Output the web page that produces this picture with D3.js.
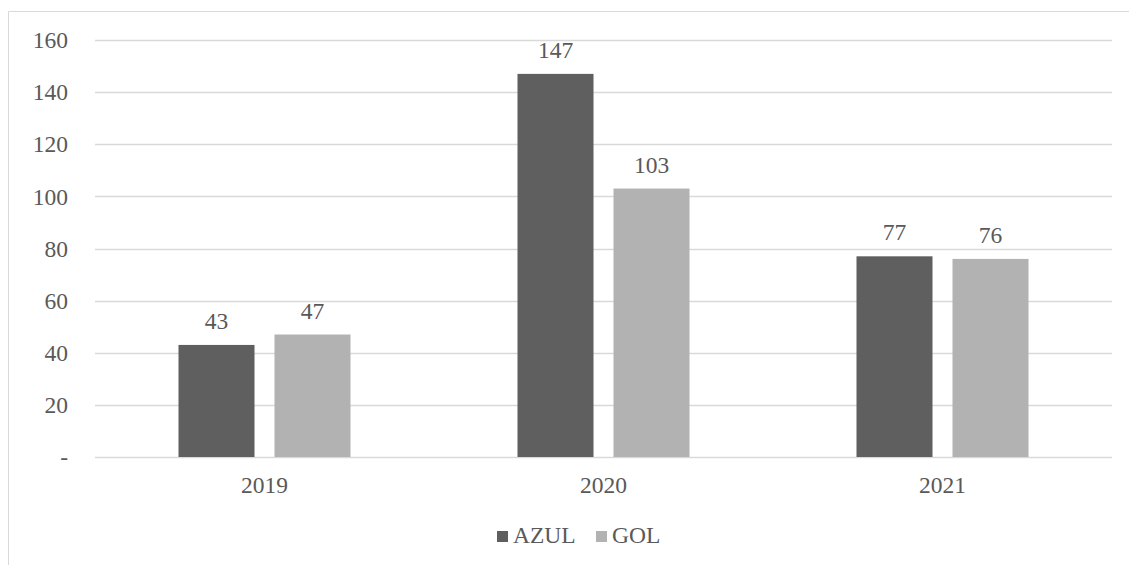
<!DOCTYPE html>
<html>
<head>
<meta charset="utf-8">
<script src="https://cdn.jsdelivr.net/npm/d3@7.9.0/dist/d3.min.js"></script>
<style>
  body { margin: 0; background: #fff; }
</style>
</head>
<body>
<svg id="chart" width="1129" height="565"></svg>
<script>
const years = ['2019', '2020', '2021'];
const series = ['AZUL', 'GOL'];
const azul = [43, 147, 77];
const gol = [47, 103, 76];
const yTicks = [0, 20, 40, 60, 80, 100, 120, 140, 160];
const colors = { AZUL: '#5f5f5f', GOL: '#b2b2b2' };

const FONT = "'Liberation Serif', 'Times New Roman', serif";
const FS = '23.5px';

const svg = d3.select('#chart')
  .attr('font-family', FONT)
  .style('font-family', FONT);

const margin = { left: 95, right: 17, top: 40, bottom: 108 };
const width = 1129 - margin.left - margin.right;
const height = 565 - margin.top - margin.bottom;

// outer frame (clipped at right and bottom like the source)
svg.append('path')
  .attr('d', 'M8.5,565 V11.5 H1129')
  .attr('fill', 'none')
  .attr('stroke', '#d9d9d9')
  .attr('stroke-width', 1);

const g = svg.append('g').attr('transform', `translate(${margin.left},${margin.top})`);

const x = d3.scaleBand().domain(years).range([0, width]);
const x1 = d3.scaleBand().domain(series)
  .range([x.bandwidth() / 2 - 86, x.bandwidth() / 2 + 86])
  .paddingInner(20 / 96);
const y = d3.scaleLinear().domain([0, 160]).range([height, 0]);

// gridlines
g.selectAll('line.grid')
  .data(yTicks)
  .join('line')
  .attr('x1', 0).attr('x2', width)
  .attr('y1', d => Math.round(y(d)) + 0.5).attr('y2', d => Math.round(y(d)) + 0.5)
  .attr('stroke', '#d9d9d9')
  .attr('stroke-width', 1.5);

// y labels
g.selectAll('text.ytick')
  .data(yTicks)
  .join('text')
  .attr('x', -27)
  .attr('y', d => y(d))
  .attr('dy', '0.35em')
  .attr('text-anchor', 'end')
  .attr('fill', '#595959')
  .style('font-size', FS)
  .text(d => d === 0 ? '-' : d);

const data = years.map((yr, i) => ({ year: yr, AZUL: azul[i], GOL: gol[i] }));

const groups = g.selectAll('g.year')
  .data(data)
  .join('g')
  .attr('transform', d => `translate(${x(d.year)},0)`);

groups.selectAll('rect')
  .data(d => series.map(s => ({ key: s, value: d[s] })))
  .join('rect')
  .attr('x', d => x1(d.key))
  .attr('width', x1.bandwidth())
  .attr('y', d => y(d.value))
  .attr('height', d => y(0) - y(d.value))
  .attr('fill', d => colors[d.key]);

groups.selectAll('text.val')
  .data(d => series.map(s => ({ key: s, value: d[s] })))
  .join('text')
  .attr('class', 'val')
  .attr('x', d => x1(d.key) + x1.bandwidth() / 2)
  .attr('y', d => y(d.value) - 16)
  .attr('text-anchor', 'middle')
  .attr('fill', '#595959')
  .style('font-size', FS)
  .text(d => d.value);

// x labels
g.selectAll('text.xtick')
  .data(years)
  .join('text')
  .attr('x', d => x(d) + x.bandwidth() / 2)
  .attr('y', height + 36)
  .attr('text-anchor', 'middle')
  .attr('fill', '#595959')
  .style('font-size', FS)
  .text(d => d);

// legend
const legendX = [497, 596];
series.forEach((s, i) => {
  const lg = svg.append('g').attr('transform', `translate(${legendX[i]},543)`);
  lg.append('rect').attr('x', 0).attr('y', -12).attr('width', 11).attr('height', 11).attr('fill', colors[s]);
  lg.append('text').attr('x', 16).attr('y', 0)
    .attr('fill', '#595959')
    .style('font-size', FS).text(s);
});
</script>
</body>
</html>
